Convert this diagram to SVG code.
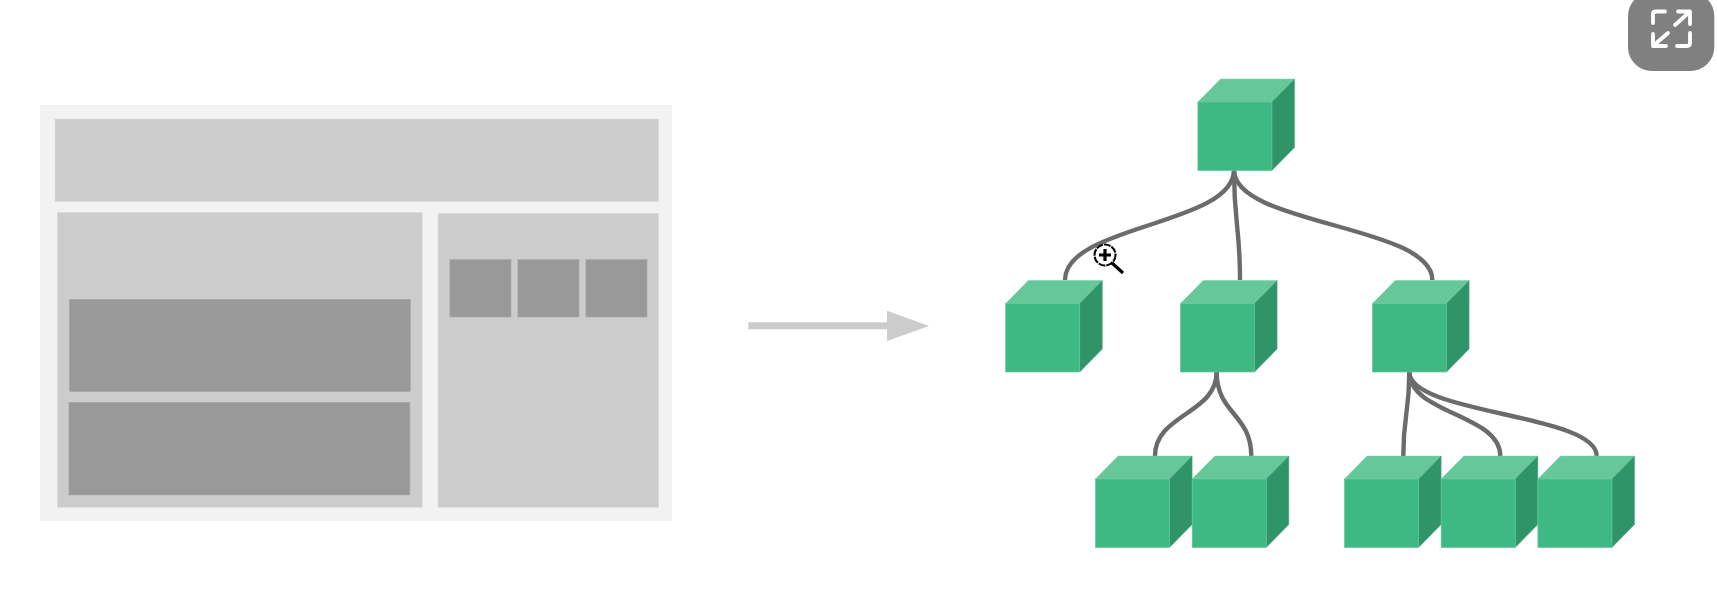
<svg xmlns="http://www.w3.org/2000/svg" xmlns:xlink="http://www.w3.org/1999/xlink" width="1717" height="616" viewBox="0 0 1717 616">
<style>
.outer{fill:#f2f2f2}
.panel{fill:#ccc;stroke:#dedede;stroke-width:.6}
.dark{fill:#999;stroke:#aaa;stroke-width:.6}
.front{fill:#3eb983;stroke:#62c79c;stroke-width:.7}
.top{fill:#66c899;stroke:#7dd0a9;stroke-width:.5}
.side{fill:#2f9569;stroke:#4aa57e;stroke-width:.5}
.conn{fill:none;stroke:#6b6b6b;stroke-width:4.4}
.arrow{fill:#ccc}
.icon{fill:none;stroke:#fff;stroke-width:3.8;stroke-linecap:round;stroke-linejoin:round}
</style>
<defs>
<g id="cube">
<polygon class="top" points="0,0 22.6,-23 96.6,-23 74,0"/>
<polygon class="side" points="74,0 96.6,-23 96.6,45.5 74,68.5"/>
<rect class="front" x="0" y="0" width="74" height="68.5"/>
</g>
</defs>
<rect width="1717" height="616" fill="#fff"/>
<g id="wireframe">
<rect class="outer" x="40" y="105" width="632" height="416"/>
<rect class="panel" x="55" y="119" width="603.7" height="82.7"/>
<rect class="panel" x="57.3" y="212.3" width="365" height="295"/>
<rect class="panel" x="438" y="213.3" width="220.7" height="294"/>
<rect class="dark" x="69.3" y="299.3" width="341" height="92.4"/>
<rect class="dark" x="68.9" y="402.3" width="341" height="92.7"/>
<rect class="dark" x="449.9" y="259.5" width="61.1" height="57.5"/>
<rect class="dark" x="517.9" y="259.5" width="61.1" height="57.5"/>
<rect class="dark" x="585.9" y="259.5" width="61.1" height="57.5"/>
</g>
<g id="arrow">
<rect class="arrow" x="748.3" y="322.3" width="140" height="7"/>
<polygon class="arrow" points="887,310.7 929,326 887,341"/>
</g>
<g id="connectors">
<path class="conn" d="M1234 170C1234 225 1065 225 1065 280"/>
<path class="conn" d="M1234 170C1234 225 1240 225 1240 280"/>
<path class="conn" d="M1234 170C1234 225 1432.3 225 1432.3 280"/>
<path class="conn" d="M1216.7 372C1216.7 414 1155 414 1155 456"/>
<path class="conn" d="M1216.7 372C1216.7 414 1251.3 414 1251.3 456"/>
<path class="conn" d="M1409.3 372C1409.3 414 1403.3 414 1403.3 456"/>
<path class="conn" d="M1409.3 372C1409.3 414 1500.3 414 1500.3 456"/>
<path class="conn" d="M1409.3 372C1409.3 414 1596.7 414 1596.7 456"/>
</g>
<g id="node-root"><use href="#cube" x="1197.9" y="102"/></g>
<g id="node-a"><use href="#cube" x="1005.7" y="303.5"/></g>
<g id="node-b"><use href="#cube" x="1180.5" y="303.5"/></g>
<g id="node-c"><use href="#cube" x="1372.5" y="303.5"/></g>
<g id="node-b1"><use href="#cube" x="1095.5" y="479"/></g>
<g id="node-b2"><use href="#cube" x="1192.2" y="479"/></g>
<g id="node-c1"><use href="#cube" x="1344.5" y="479"/></g>
<g id="node-c2"><use href="#cube" x="1441.2" y="479"/></g>
<g id="node-c3"><use href="#cube" x="1537.9" y="479"/></g>
<g id="cursor">
<path d="M1112 263L1123 273" stroke="#000" stroke-width="3.2" fill="none"/>
<circle cx="1105" cy="255" r="10.5" fill="#fff" stroke="#000" stroke-width="2" stroke-dasharray="7 1"/>
<path d="M1099 255H1111M1105 249V261" stroke="#000" stroke-width="3.2" fill="none"/>
</g>
<g id="expand-button">
<rect x="1628" y="-8" width="86.3" height="79" rx="24" fill="#808080"/>
<path class="icon" d="M1653 23V14Q1653 11.5 1656 11.5H1665"/>
<path class="icon" d="M1678 11.5H1690V24M1689.5 12L1675 25"/>
<path class="icon" d="M1653 34V46H1666M1653.5 45.500L1668 33"/>
<path class="icon" d="M1690 33V43Q1690 46 1687 46H1677"/>
</g>
</svg>
